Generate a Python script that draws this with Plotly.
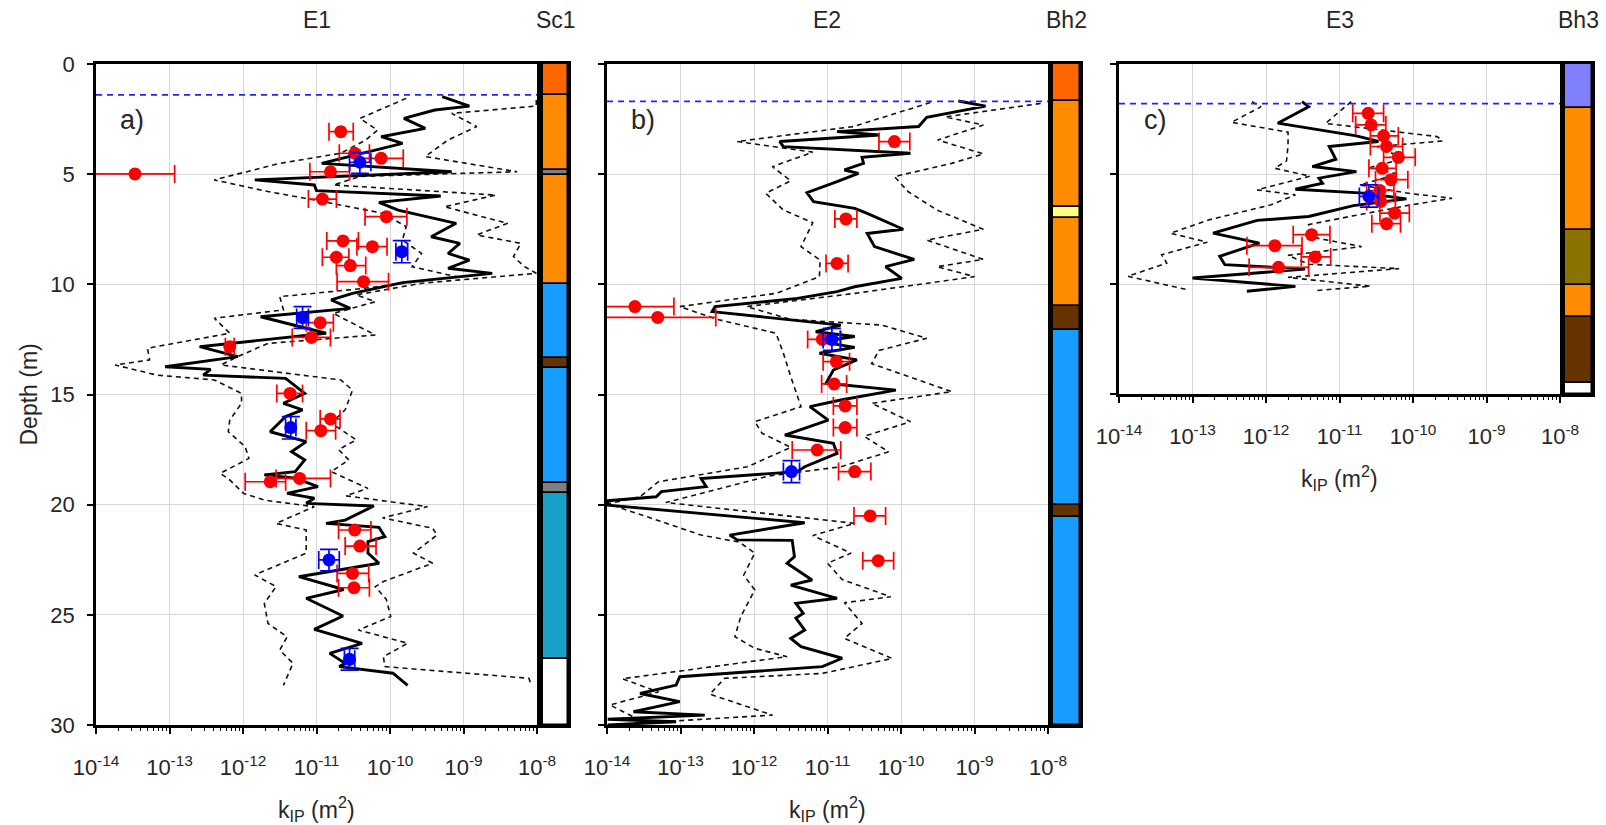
import numpy as np
import plotly.graph_objects as go

W, H = 1606, 825
FONT = "Liberation Sans, Arial, sans-serif"
TXT = "#262626"

# ---------------- data ----------------
wt_depth = [1.4, 1.7, 1.8]          # water table (m)
panel_titles = ["E1", "E2", "E3"]
column_titles = ["Sc1", "Bh2", "Bh3"]
panel_letters = ["a)", "b)", "c)"]
depth_ticks = [0, 5, 10, 15, 20, 25, 30]
k_ticks = [1e-14, 1e-13, 1e-12, 1e-11, 1e-10, 1e-9, 1e-8]
k_ticktext = ["10<sup>-14</sup>", "10<sup>-13</sup>", "10<sup>-12</sup>", "10<sup>-11</sup>",
              "10<sup>-10</sup>", "10<sup>-9</sup>", "10<sup>-8</sup>"]

# E1 — median (solid) and bounds (dashed): depth (m), log10 k (m2)
e1_med_d = [1.48, 1.91, 2.09, 2.47, 2.92, 3.30, 3.60, 3.87, 4.51, 4.89, 5.26, 5.49, 5.75, 5.99, 6.28, 6.63,
            7.23, 7.84, 8.14, 8.60, 8.90, 9.27, 9.50, 9.92, 10.41, 10.71, 11.09, 11.47, 12.22, 12.83, 13.28,
            13.74, 13.86, 14.12, 14.27, 14.95, 15.40, 15.70, 16.00, 16.69, 17.14, 17.60, 17.97, 18.50, 18.65,
            18.80, 19.18, 19.49, 19.71, 19.94, 20.06, 20.70, 20.85, 21.03, 21.45, 21.68, 22.20, 22.66, 23.27,
            23.85, 24.25, 25.05, 25.66, 26.30, 26.75, 27.20, 27.35, 27.65, 28.20]
e1_med_lk = [-9.29, -8.92, -9.39, -9.81, -9.52, -10.12, -9.83, -10.15, -10.93, -9.16, -11.84, -11.03, -11.00,
             -9.31, -10.15, -9.89, -9.10, -9.44, -9.05, -9.21, -8.92, -9.21, -8.61, -9.83, -10.51, -10.80,
             -10.54, -11.76, -10.87, -12.59, -12.07, -13.06, -12.44, -12.54, -11.42, -11.16, -11.45, -11.19,
             -11.42, -11.63, -11.14, -11.34, -11.16, -11.29, -11.71, -11.29, -10.98, -11.40, -11.03, -11.14,
             -10.22, -10.61, -10.87, -10.15, -10.07, -10.30, -10.30, -10.15, -11.24, -10.63, -11.14, -10.64,
             -11.03, -10.38, -10.82, -10.61, -10.69, -9.96, -9.76]
e1_hi_d = [1.63, 1.91, 2.24, 2.84, 3.45, 4.20, 4.89, 5.10, 5.49, 5.95, 6.48, 7.23, 7.76, 8.14, 8.74, 9.20, 9.50,
           9.95, 10.48, 10.79, 11.32, 12.30, 12.68, 13.28, 13.66, 14.34, 14.80, 15.70, 16.30, 17.06, 17.50,
           17.97, 18.50, 19.26, 19.60, 20.09, 20.60, 21.07, 21.38, 22.20, 22.66, 23.49, 23.72, 24.30, 25.08,
           25.69, 26.29, 26.90, 27.35, 27.88, 28.08]
e1_hi_lk = [-8.01, -8.01, -9.16, -8.82, -9.21, -9.52, -8.27, -10.40, -10.77, -8.56, -9.26, -8.40, -8.82, -8.22,
            -8.32, -8.17, -8.01, -9.57, -10.46, -10.20, -10.77, -10.20, -11.66, -12.07, -12.30, -10.67, -10.51,
            -10.61, -10.80, -10.46, -10.70, -10.56, -10.80, -10.30, -10.60, -9.49, -10.10, -9.42, -9.36, -9.68,
            -9.42, -10.09, -10.20, -10.05, -9.99, -10.43, -9.76, -10.09, -10.07, -8.11, -8.09]
e1_lo_d = [1.56, 2.47, 3.00, 3.45, 4.05, 4.51, 5.26, 5.79, 6.17, 6.78, 7.38, 7.99, 8.60, 9.20, 9.65, 10.20,
           10.56, 11.16, 11.54, 12.22, 12.90, 13.43, 13.66, 14.12, 14.34, 14.95, 15.40, 16.16, 16.69, 17.37,
           17.90, 18.58, 18.88, 19.49, 19.80, 20.09, 20.85, 21.15, 22.20, 23.19, 23.72, 24.48, 25.39, 26.00,
           26.60, 27.20, 28.20]
e1_lo_lk = [-9.78, -10.41, -10.17, -10.33, -10.67, -11.50, -12.39, -11.66, -11.03, -10.09, -9.78, -9.83, -9.57,
            -9.70, -9.10, -10.40, -11.50, -11.45, -12.39, -12.18, -13.30, -13.27, -13.74, -13.17, -12.39,
            -12.02, -12.02, -12.18, -12.20, -11.97, -11.92, -12.31, -12.18, -11.99, -11.70, -11.03, -11.55,
            -11.14, -11.14, -11.84, -11.55, -11.71, -11.66, -11.40, -11.50, -11.32, -11.45]

# E1 points: depth, log10 k, log10 k low, log10 k high
e1_red_d = [3.07, 4.05, 4.28, 4.99, 4.89, 6.13, 6.93, 8.03, 8.29, 8.77, 9.15, 9.88, 11.74, 12.41, 12.83, 14.95,
            16.11, 16.64, 18.96, 18.81, 21.15, 21.88, 23.12, 23.77]
e1_red_lk = [-10.67, -10.48, -10.12, -13.47, -10.81, -10.92, -10.05, -10.64, -10.24, -10.73, -10.54, -10.36,
             -10.95, -11.07, -12.18, -11.36, -10.81, -10.94, -11.63, -11.23, -10.48, -10.41, -10.51, -10.49]
e1_red_lo = [-10.83, -10.69, -10.41, -14.30, -11.09, -11.11, -10.34, -10.86, -10.45, -10.92, -10.73, -10.72,
             -11.14, -11.33, -12.24, -11.54, -10.95, -11.14, -11.97, -11.55, -10.70, -10.61, -10.72, -10.70]
e1_red_hi = [-10.50, -10.28, -9.82, -12.93, -10.55, -10.73, -9.77, -10.43, -10.04, -10.56, -10.33, -10.02,
             -10.77, -10.81, -12.12, -11.19, -10.68, -10.74, -11.42, -10.81, -10.26, -10.19, -10.29, -10.28]
e1_blue_d = [4.46, 8.52, 11.51, 16.50, 22.51, 27.02]
e1_blue_dlo = [4.02, 8.02, 11.01, 16.00, 22.03, 26.52]
e1_blue_dhi = [4.96, 9.02, 12.00, 17.02, 23.00, 27.51]
e1_blue_lk = [-10.41, -9.84, -11.19, -11.35, -10.83, -10.55]
e1_blue_lo = [-10.55, -9.92, -11.27, -11.42, -10.97, -10.62]
e1_blue_hi = [-10.26, -9.76, -11.11, -11.28, -10.69, -10.48]

# E2
e2_med_d = [1.68, 1.91, 2.42, 2.84, 3.07, 3.22, 3.52, 3.75, 4.05, 4.24, 4.51, 4.81, 4.96, 5.34, 5.84, 6.25,
            6.55, 6.78, 7.50, 7.69, 8.29, 8.87, 9.20, 9.73, 10.11, 10.33, 10.64, 11.01, 11.24, 11.85, 12.15,
            12.37, 12.60, 12.86, 13.13, 13.43, 13.89, 14.49, 14.80, 15.25, 15.55, 16.16, 16.84, 17.22, 17.67,
            18.28, 18.50, 18.81, 19.18, 19.41, 19.64, 19.82, 20.02, 20.82, 21.38, 21.60, 21.62, 22.36, 22.66,
            23.42, 23.65, 24.25, 24.48, 24.93, 25.15, 25.69, 26.07, 26.44, 26.97, 27.35, 27.81, 28.19, 28.57,
            28.94, 29.40, 29.55, 29.74, 29.85, 30.00]
e2_med_lk = [-9.22, -8.85, -9.65, -9.76, -10.87, -10.29, -11.65, -11.60, -9.87, -10.53, -10.51, -10.77, -10.58,
             -10.87, -11.28, -11.19, -10.63, -10.46, -9.97, -10.46, -10.36, -9.82, -10.21, -9.99, -10.63,
             -10.87, -11.41, -12.53, -12.57, -10.82, -11.16, -10.63, -11.10, -10.63, -11.11, -10.60, -10.92,
             -11.02, -10.07, -10.82, -11.24, -10.99, -11.58, -10.92, -10.87, -11.31, -11.41, -12.72, -12.65,
             -13.26, -13.33, -13.99, -13.99, -11.31, -12.33, -12.23, -11.48, -11.45, -11.55, -11.21, -11.50,
             -10.87, -11.43, -11.33, -11.43, -11.31, -11.50, -11.36, -10.80, -11.07, -13.01, -13.06, -13.55,
             -13.01, -13.64, -12.67, -13.99, -13.06, -13.99]
e2_hi_d = [1.79, 2.40, 2.77, 3.45, 4.08, 4.51, 5.11, 5.80, 6.63, 7.50, 7.99, 8.87, 9.20, 9.65, 10.41, 11.01,
           11.59, 11.85, 12.45, 13.00, 13.60, 14.87, 15.40, 16.23, 16.90, 17.60, 18.28, 18.70, 19.30, 19.90,
           20.60, 20.85, 21.40, 22.20, 22.66, 23.40, 24.18, 24.45, 25.39, 26.07, 26.98, 27.66, 27.88, 28.60,
           29.55, 30.00]
e2_hi_lk = [-8.10, -9.40, -8.88, -9.50, -8.88, -9.31, -10.09, -9.90, -9.51, -8.88, -9.65, -8.88, -9.51, -9.00,
            -10.63, -12.10, -11.50, -10.26, -9.65, -10.30, -10.40, -9.31, -10.40, -9.87, -10.50, -10.17, -10.82,
            -11.80, -12.50, -13.20, -11.30, -10.63, -11.20, -10.68, -11.00, -10.80, -10.14, -10.77, -10.53,
            -10.77, -10.12, -11.07, -12.40, -12.60, -11.75, -13.99]
e2_lo_d = [1.75, 2.84, 3.52, 4.00, 4.66, 5.30, 5.87, 6.63, 7.20, 8.29, 8.90, 9.65, 10.41, 11.01, 11.59, 12.22,
           13.13, 14.19, 15.55, 16.23, 16.76, 17.40, 18.28, 18.96, 19.64, 19.96, 20.50, 21.38, 21.70, 22.20,
           23.20, 23.87, 25.08, 25.99, 26.52, 26.90, 27.90, 28.50, 29.09, 29.70]
e2_lo_lk = [-9.60, -10.65, -12.23, -11.20, -11.75, -11.50, -11.84, -11.60, -11.20, -11.36, -11.10, -11.11,
            -11.70, -13.01, -12.50, -11.70, -11.60, -11.50, -11.36, -11.99, -11.89, -11.50, -12.09, -13.30,
            -13.55, -13.99, -13.50, -12.72, -12.20, -11.99, -12.14, -11.99, -12.18, -12.26, -11.99, -11.55,
            -13.79, -13.30, -13.96, -13.60]
e2_red_d = [3.52, 7.03, 9.05, 11.01, 11.50, 12.50, 13.51, 14.52, 15.52, 16.50, 17.52, 18.50, 20.51, 22.54]
e2_red_lk = [-10.09, -10.75, -10.87, -13.62, -13.31, -11.07, -10.88, -10.91, -10.76, -10.76, -11.14, -10.63,
             -10.42, -10.31]
e2_red_lo = [-10.30, -10.90, -11.02, -14.30, -14.30, -11.27, -11.06, -11.08, -10.92, -10.92, -11.48, -10.85,
             -10.64, -10.52]
e2_red_hi = [-9.88, -10.60, -10.72, -13.09, -12.52, -10.83, -10.70, -10.74, -10.60, -10.60, -10.82, -10.41,
             -10.21, -10.10]
e2_blue_d = [12.50, 18.50]
e2_blue_dlo = [12.00, 18.00]
e2_blue_dhi = [13.00, 19.00]
e2_blue_lk = [-10.94, -11.49]
e2_blue_lo = [-11.06, -11.60]
e2_blue_hi = [-10.82, -11.38]

# E3
e3_med_d = [1.71, 1.94, 2.69, 3.27, 3.52, 3.75, 4.33, 4.66, 4.89, 5.19, 5.42, 5.69, 5.87, 6.13, 6.44, 6.93,
            7.11, 7.69, 8.14, 8.74, 9.12, 9.32, 9.73, 10.11, 10.33]
e3_med_lk = [-11.51, -11.42, -11.84, -10.77, -10.47, -11.14, -11.05, -11.37, -10.77, -11.28, -11.23, -11.60,
             -10.67, -10.09, -10.81, -11.42, -12.12, -12.72, -12.09, -12.63, -12.56, -11.47, -13.00, -11.60,
             -12.26]
e3_lo_d = [1.71, 1.95, 2.65, 3.10, 3.70, 4.40, 4.74, 5.10, 5.72, 5.95, 6.40, 7.08, 7.69, 8.10, 8.67, 9.05,
           9.65, 10.26]
e3_lo_lk = [-12.19, -12.07, -12.47, -11.70, -11.70, -11.72, -11.88, -11.40, -12.12, -11.60, -11.93, -12.77,
            -13.30, -12.80, -13.42, -13.35, -13.88, -13.07]
e3_hi_d = [1.71, 2.70, 3.30, 3.50, 3.75, 4.30, 4.70, 5.00, 5.50, 5.90, 6.10, 6.40, 6.90, 7.30, 7.90, 8.30,
           8.70, 9.10, 9.30, 9.70, 10.10, 10.30]
e3_hi_lk = [-10.84, -11.19, -9.67, -9.60, -10.49, -10.12, -10.58, -10.21, -10.72, -10.02, -9.47, -10.02,
            -10.81, -11.42, -11.33, -10.70, -11.70, -11.42, -10.19, -11.70, -10.58, -11.33]
e3_red_d = [2.24, 2.77, 3.27, 3.75, 4.24, 4.74, 5.26, 5.75, 6.25, 6.78, 7.26, 7.76, 8.26, 8.77, 9.24]
e3_red_lk = [-10.61, -10.57, -10.40, -10.36, -10.20, -10.42, -10.30, -10.45, -10.44, -10.25, -10.36, -11.38,
             -11.88, -11.33, -11.83]
e3_red_lo = [-10.82, -10.78, -10.58, -10.58, -10.40, -10.60, -10.51, -10.63, -10.63, -10.45, -10.56, -11.63,
             -12.26, -11.52, -12.23]
e3_red_hi = [-10.40, -10.37, -10.20, -10.14, -9.97, -10.23, -10.07, -10.26, -10.24, -10.05, -10.17, -11.13,
             -11.51, -11.12, -11.42]
e3_blue_d = [6.02]
e3_blue_dlo = [5.49]
e3_blue_dhi = [6.51]
e3_blue_lk = [-10.60]
e3_blue_lo = [-10.73]
e3_blue_hi = [-10.47]

# stratigraphy columns: layer tops (m), column bottom, colours
C_RED, C_OR, C_GR, C_BL, C_BR = "#ff6600", "#ff8c00", "#808080", "#179cff", "#663300"
C_TE, C_YE, C_LA, C_OL, C_WH = "#18a0c8", "#ffff80", "#8080ff", "#8c7200", "#ffffff"
sc1_tops = [0, 1.4, 4.8, 5.05, 10.0, 13.33, 13.8, 19.0, 19.46, 27.0]
sc1_cols = [C_RED, C_OR, C_GR, C_OR, C_BL, C_BR, C_BL, C_GR, C_TE, C_WH]
sc1_bottom = 30
bh2_tops = [0, 1.7, 6.5, 7.0, 11.0, 12.05, 20.02, 20.55]
bh2_cols = [C_RED, C_OR, C_YE, C_OR, C_BR, C_BL, C_BR, C_BL]
bh2_bottom = 30
bh3_tops = [0, 2.0, 7.53, 10.03, 11.5, 14.5]
bh3_cols = [C_LA, C_OR, C_OL, C_OR, C_BR, C_WH]
bh3_bottom = 15

# ---------------- layout geometry (pixels) ----------------
def px(x):
    return x / W

def py(y):
    return 1 - y / H

main_x = [(96, 537), (607, 1048), (1119, 1560)]
col_x = [(543, 568), (1053, 1080), (1565, 1592)]
y_top = 64
y_bot = [725, 725, 394]
depth_max = [30, 30, 15]

panels = [
    dict(med=(e1_med_d, e1_med_lk), lo=(e1_lo_d, e1_lo_lk), hi=(e1_hi_d, e1_hi_lk),
         red=(e1_red_d, e1_red_lk, e1_red_lo, e1_red_hi),
         blue=(e1_blue_d, e1_blue_dlo, e1_blue_dhi, e1_blue_lk, e1_blue_lo, e1_blue_hi),
         strat=(sc1_tops, sc1_cols, sc1_bottom)),
    dict(med=(e2_med_d, e2_med_lk), lo=(e2_lo_d, e2_lo_lk), hi=(e2_hi_d, e2_hi_lk),
         red=(e2_red_d, e2_red_lk, e2_red_lo, e2_red_hi),
         blue=(e2_blue_d, e2_blue_dlo, e2_blue_dhi, e2_blue_lk, e2_blue_lo, e2_blue_hi),
         strat=(bh2_tops, bh2_cols, bh2_bottom)),
    dict(med=(e3_med_d, e3_med_lk), lo=(e3_lo_d, e3_lo_lk), hi=(e3_hi_d, e3_hi_lk),
         red=(e3_red_d, e3_red_lk, e3_red_lo, e3_red_hi),
         blue=(e3_blue_d, e3_blue_dlo, e3_blue_dhi, e3_blue_lk, e3_blue_lo, e3_blue_hi),
         strat=(bh3_tops, bh3_cols, bh3_bottom)),
]

fig = go.Figure()
minor_vals = [m * 10.0 ** d for d in range(-14, -8) for m in range(2, 10)]
shapes, annotations = [], []


def label(text, x, y, size, angle=0):
    return dict(text=text, x=px(x), y=py(y), xref="paper", yref="paper", xanchor="center", yanchor="middle",
                showarrow=False, textangle=angle, font=dict(family=FONT, size=size, color=TXT))


for i, p in enumerate(panels):
    xa = "x" if i == 0 else f"x{i+1}"
    ya = "y" if i == 0 else f"y{i+1}"
    xc, yc = f"x{i+4}", f"y{i+4}"

    for key in ("lo", "hi"):
        d, lk = p[key]
        fig.add_trace(go.Scatter(x=np.power(10.0, lk), y=d, mode="lines", xaxis=xa, yaxis=ya,
                                 line=dict(color="#111111", width=1.6, dash="5px,4px"),
                                 showlegend=False, hoverinfo="skip"))
    d, lk = p["med"]
    fig.add_trace(go.Scatter(x=np.power(10.0, lk), y=d, mode="lines", xaxis=xa, yaxis=ya,
                             line=dict(color="black", width=2.9), showlegend=False, hoverinfo="skip"))
    rd, rlk, rlo, rhi = [np.array(a, dtype=float) for a in p["red"]]
    k, klo, khi = 10 ** rlk, 10 ** rlo, 10 ** rhi
    fig.add_trace(go.Scatter(x=k, y=rd, mode="markers", xaxis=xa, yaxis=ya,
                             marker=dict(color="#ff0000", size=13),
                             error_x=dict(type="data", symmetric=False, array=khi - k, arrayminus=k - klo,
                                          color="#ff0000", thickness=1.7, width=9),
                             showlegend=False, hoverinfo="skip"))
    bd, bdlo, bdhi, blk, blo, bhi = [np.array(a, dtype=float) for a in p["blue"]]
    k, klo, khi = 10 ** blk, 10 ** blo, 10 ** bhi
    fig.add_trace(go.Scatter(x=k, y=bd, mode="markers", xaxis=xa, yaxis=ya,
                             marker=dict(color="#0000ff", size=13),
                             error_x=dict(type="data", symmetric=False, array=khi - k, arrayminus=k - klo,
                                          color="#0000ff", thickness=1.7, width=9),
                             error_y=dict(type="data", symmetric=False, array=bdhi - bd, arrayminus=bd - bdlo,
                                          color="#0000ff", thickness=1.7, width=9),
                             showlegend=False, hoverinfo="skip"))
    tops, cols, bottom = p["strat"]
    bots = list(tops[1:]) + [bottom]
    for t, b, c in zip(tops, bots, cols):
        fig.add_trace(go.Bar(x=[0.5], y=[b - t], base=[t], width=1, xaxis=xc, yaxis=yc,
                             marker=dict(color=c, line=dict(color="black", width=1.5)),
                             showlegend=False, hoverinfo="skip"))

    shapes.append(dict(type="line", xref=f"{xa} domain", yref=ya, x0=0, x1=1, y0=wt_depth[i], y1=wt_depth[i],
                       line=dict(color="#2222ff", width=1.7, dash="6px,5px")))

    x0, x1 = main_x[i]
    ydom = [py(y_bot[i]), py(y_top)]
    axis_font = dict(family=FONT, size=22, color=TXT)
    fig.layout[("xaxis" if i == 0 else f"xaxis{i+1}")] = dict(
        type="log", range=[-14, -8], domain=[px(x0), px(x1)], anchor=ya, automargin=False,
        tickvals=k_ticks, ticktext=k_ticktext, ticks="outside", ticklen=6, tickwidth=1.5, tickcolor="black",
        showline=True, linecolor="black", linewidth=2.6, mirror=True,
        showgrid=True, gridcolor="#d6d6d6", gridwidth=1.3, zeroline=False,
        tickfont=axis_font, ticklabelstandoff=15,
        minor=dict(ticks="outside", ticklen=3, tickwidth=1, tickcolor="black", tickvals=minor_vals,
                   showgrid=False))
    fig.layout[("yaxis" if i == 0 else f"yaxis{i+1}")] = dict(
        range=[depth_max[i], 0], domain=ydom, anchor=xa, automargin=False,
        tickvals=[t for t in depth_ticks if t <= depth_max[i]], ticks="outside", ticklen=6, tickwidth=1.5,
        tickcolor="black", showticklabels=(i == 0),
        showline=True, linecolor="black", linewidth=2.6, mirror="ticks",
        showgrid=True, gridcolor="#d6d6d6", gridwidth=1.3, zeroline=False,
        tickfont=axis_font, ticklabelstandoff=8)
    c0, c1 = col_x[i]
    fig.layout[f"xaxis{i+4}"] = dict(range=[0, 1], domain=[px(c0), px(c1)], anchor=yc, showticklabels=False,
                                     ticks="", showgrid=False, zeroline=False, showline=True, linecolor="black",
                                     linewidth=3, mirror=True, fixedrange=True, automargin=False)
    fig.layout[f"yaxis{i+4}"] = dict(range=[depth_max[i], 0], domain=ydom, anchor=xc, showticklabels=False,
                                     ticks="", showgrid=False, zeroline=False, showline=True, linecolor="black",
                                     linewidth=3, mirror=True, fixedrange=True, automargin=False)

    annotations.append(label(panel_titles[i], (x0 + x1) / 2, 20, 23))
    annotations.append(label(column_titles[i], (c0 + c1) / 2, 20, 23))
    annotations.append(label(panel_letters[i], x0 + 36, y_top + 56, 27))
    annotations.append(label("k<sub>IP</sub> (m<sup>2</sup>)", (x0 + x1) / 2, y_bot[i] + 84, 23))

annotations.append(label("Depth (m)", 28, (y_top + y_bot[0]) / 2, 23, angle=-90))

fig.update_layout(width=W, height=H, autosize=False, margin=dict(l=0, r=0, t=0, b=0, pad=0),
                  paper_bgcolor="white", plot_bgcolor="white", barmode="overlay", bargap=0,
                  shapes=shapes, annotations=annotations, showlegend=False,
                  font=dict(family=FONT, size=22, color=TXT))

fig.write_html("out.html")
